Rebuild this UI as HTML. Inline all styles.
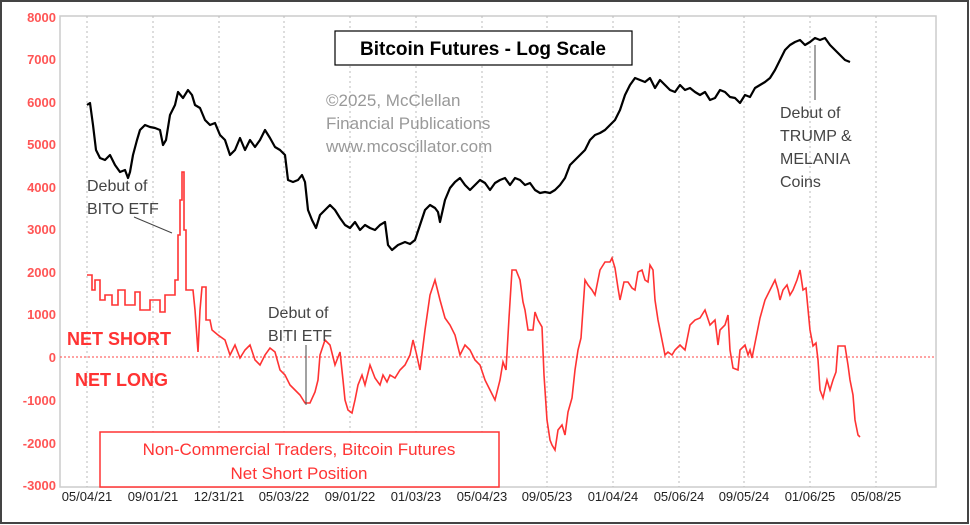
<!DOCTYPE html><html><head><style>body{margin:0;background:#fff}svg{display:block}text{font-family:"Liberation Sans",Arial,sans-serif}</style></head><body>
<svg width="970" height="525" viewBox="0 0 970 525">
<rect x="1" y="1" width="967" height="522" fill="#fff" stroke="#444" stroke-width="2"/>
<rect x="60" y="16" width="876" height="471" fill="#fff" stroke="#ccc" stroke-width="1.5"/>
<g stroke="#bbb" stroke-dasharray="2,3" stroke-width="1">
<line x1="87" y1="16" x2="87" y2="487"/><line x1="153" y1="16" x2="153" y2="487"/><line x1="219" y1="16" x2="219" y2="487"/><line x1="284" y1="16" x2="284" y2="487"/><line x1="350" y1="16" x2="350" y2="487"/><line x1="416" y1="16" x2="416" y2="487"/><line x1="482" y1="16" x2="482" y2="487"/><line x1="547" y1="16" x2="547" y2="487"/><line x1="613" y1="16" x2="613" y2="487"/><line x1="679" y1="16" x2="679" y2="487"/><line x1="744" y1="16" x2="744" y2="487"/><line x1="810" y1="16" x2="810" y2="487"/><line x1="876" y1="16" x2="876" y2="487"/>
</g>
<line x1="60" y1="357" x2="936" y2="357" stroke="#f44" stroke-dasharray="2,2" stroke-width="1"/>
<g fill="#f55" font-size="13" font-weight="bold" text-anchor="end">
<text x="56" y="22">8000</text><text x="56" y="64">7000</text><text x="56" y="107">6000</text><text x="56" y="149">5000</text><text x="56" y="192">4000</text><text x="56" y="234">3000</text><text x="56" y="277">2000</text><text x="56" y="319">1000</text><text x="56" y="362">0</text><text x="56" y="405">-1000</text><text x="56" y="448">-2000</text><text x="56" y="490">-3000</text>
</g>
<g fill="#222" font-size="13" text-anchor="middle">
<text x="87" y="501">05/04/21</text><text x="153" y="501">09/01/21</text><text x="219" y="501">12/31/21</text><text x="284" y="501">05/03/22</text><text x="350" y="501">09/01/22</text><text x="416" y="501">01/03/23</text><text x="482" y="501">05/04/23</text><text x="547" y="501">09/05/23</text><text x="613" y="501">01/04/24</text><text x="679" y="501">05/06/24</text><text x="744" y="501">09/05/24</text><text x="810" y="501">01/06/25</text><text x="876" y="501">05/08/25</text>
</g>
<polyline fill="none" stroke="#000" stroke-width="2.2" stroke-linejoin="round" points="87,105 90,103 93,125 96,150 100,158 105,160 110,155 115,165 120,172 125,170 128,178 130,172 133,155 137,140 140,130 145,125 150,127 155,128 160,130 163,145 166,140 170,115 175,105 178,92 183,98 188,90 192,95 195,105 200,108 205,120 210,125 215,123 220,135 225,140 230,155 235,150 240,138 245,150 250,140 255,147 260,140 265,130 270,138 275,147 280,150 285,155 288,180 293,182 298,180 302,175 305,182 308,210 312,220 316,228 320,215 325,210 330,205 335,210 340,218 345,225 350,228 355,222 360,230 365,225 370,228 375,230 380,225 385,222 388,245 392,250 398,245 405,242 410,244 415,240 420,225 425,210 430,205 435,208 438,212 440,222 445,200 450,188 455,182 460,178 465,185 470,190 475,185 480,180 485,183 490,190 495,183 500,180 505,178 510,185 515,178 520,180 525,185 530,183 535,190 540,193 545,192 550,193 555,190 560,185 565,178 570,165 575,160 580,155 585,150 590,140 595,135 600,133 605,130 610,125 615,120 620,110 625,95 630,85 635,78 640,80 645,82 650,78 655,88 660,80 665,85 670,90 675,92 680,85 685,90 690,88 695,92 700,95 705,92 710,100 715,98 720,90 725,92 730,97 735,98 740,103 745,95 750,97 755,88 760,85 765,82 770,78 775,70 780,60 785,50 790,45 795,42 800,40 805,45 810,42 815,38 820,40 825,38 830,45 835,50 840,55 845,60 850,62"/>
<polyline fill="none" stroke="#f33" stroke-width="1.6" points="87,275 92,275 92,290 95,290 95,280 100,280 100,300 105,300 105,295 112,295 112,305 118,305 118,290 125,290 125,305 135,305 135,292 140,292 140,310 150,310 150,300 160,300 160,312 165,312 165,295 175,295 175,280 178,280 178,235 180,235 180,200 182,200 182,172 184,172 184,230 186,230 186,290 193,290 195,310 198,352 200,310 202,287 206,287 206,320 210,320 212,330 218,335 225,340 230,355 235,345 240,358 245,350 250,345 255,360 260,365 265,355 270,348 275,352 280,370 285,375 290,385 295,390 300,395 305,403 310,403 315,392 318,380 320,355 325,340 330,345 335,365 340,352 343,380 345,400 348,410 352,413 355,400 358,385 362,375 365,385 370,365 375,378 380,385 383,375 387,382 390,375 395,378 400,370 405,365 410,355 413,340 416,352 420,370 425,330 430,295 435,280 440,300 445,318 450,325 455,335 460,355 465,345 470,350 475,360 480,365 485,380 490,390 495,400 500,380 503,362 506,370 509,318 512,270 516,270 520,280 523,302 525,310 528,330 533,330 535,312 538,320 542,327 544,375 547,420 550,440 552,445 555,450 558,430 562,425 565,435 568,412 572,398 575,370 578,350 581,338 585,280 588,285 592,290 595,295 598,280 600,270 605,262 610,262 612,258 615,268 618,288 620,300 624,282 628,282 632,288 635,290 638,272 642,270 645,280 648,282 650,265 653,270 655,300 658,320 662,340 665,355 668,352 672,355 675,350 680,345 685,350 690,325 695,320 700,318 705,310 710,325 715,320 718,345 720,330 725,325 728,315 730,350 733,368 738,370 740,350 745,345 748,355 750,350 752,358 756,338 760,318 765,300 770,290 775,280 778,290 780,300 783,290 787,285 790,295 793,290 797,280 800,270 803,290 806,288 810,330 813,346 816,343 818,360 820,390 823,398 827,380 830,390 833,380 836,372 838,346 845,346 848,365 850,380 853,395 855,420 858,435 860,437"/>
<rect x="335" y="31" width="297" height="34" fill="#fff" stroke="#000" stroke-width="1.2"/>
<text x="483" y="55" font-size="19" font-weight="bold" text-anchor="middle" fill="#000">Bitcoin Futures - Log Scale</text>
<g fill="#999" font-size="17"><text x="326" y="106">©2025, McClellan</text><text x="326" y="129">Financial Publications</text><text x="326" y="152">www.mcoscillator.com</text></g>
<g fill="#444" font-size="16"><text x="87" y="191">Debut of</text><text x="87" y="214">BITO ETF</text>
<text x="268" y="318">Debut of</text><text x="268" y="341">BITI ETF</text>
<text x="780" y="118">Debut of</text><text x="780" y="141">TRUMP &amp;</text><text x="780" y="164">MELANIA</text><text x="780" y="187">Coins</text></g>
<line x1="134" y1="217" x2="172" y2="233" stroke="#444"/>
<line x1="306" y1="345" x2="306" y2="405" stroke="#444"/>
<line x1="815" y1="45" x2="815" y2="100" stroke="#444"/>
<text x="67" y="345" font-size="18" font-weight="bold" fill="#f33">NET SHORT</text>
<text x="75" y="386" font-size="18" font-weight="bold" fill="#f33">NET LONG</text>
<rect x="100" y="432" width="399" height="55" fill="#fff" stroke="#f33" stroke-width="1.5"/>
<g fill="#f33" font-size="17" text-anchor="middle"><text x="299" y="455">Non-Commercial Traders, Bitcoin Futures</text><text x="299" y="479">Net Short Position</text></g>
</svg></body></html>
